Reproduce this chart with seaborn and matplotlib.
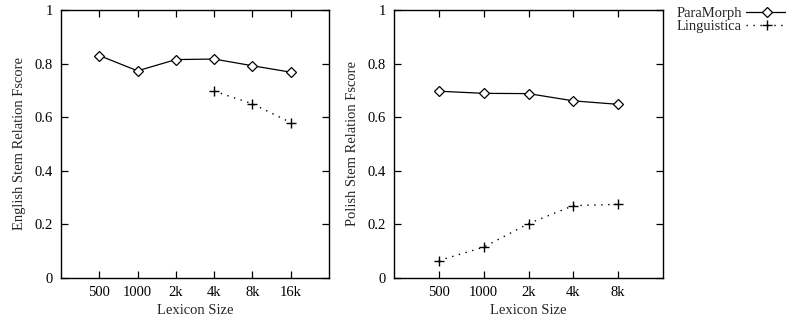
import numpy as np
import pandas as pd
import matplotlib
matplotlib.use("Agg")
import matplotlib.pyplot as plt
import seaborn as sns

# lexicon sizes
en_sizes = ["500", "1000", "2k", "4k", "8k", "16k"]
pl_sizes = ["500", "1000", "2k", "4k", "8k"]

# English stem relation fscore
en_paramorph = [0.830, 0.773, 0.815, 0.817, 0.792, 0.768]
en_linguistica = [np.nan, np.nan, np.nan, 0.697, 0.650, 0.580]

# Polish stem relation fscore
pl_paramorph = [0.697, 0.689, 0.688, 0.661, 0.648]
pl_linguistica = [0.065, 0.115, 0.203, 0.270, 0.275]

sns.set_style("ticks")
plt.rcParams['font.family'] = ['Liberation Serif', 'DejaVu Serif']
plt.rcParams['font.size'] = 10.5

fig = plt.figure(figsize=(7.86, 3.2), dpi=100)
ax1 = fig.add_axes([61/786, 42/320, 268/786, 268/320])
ax2 = fig.add_axes([394/786, 42/320, 269/786, 268/320])


def draw(ax, sizes, para, ling, ylabel):
    df = pd.DataFrame({"pos": np.arange(len(sizes)), "para": para, "ling": ling})
    sns.lineplot(data=df, x="pos", y="para", ax=ax, color="black", lw=0.9,
                 marker="D", markersize=5.5, markerfacecolor="white",
                 markeredgecolor="black", markeredgewidth=0.9, label="ParaMorph")
    d2 = df.dropna()
    sns.lineplot(data=d2, x="pos", y="ling", ax=ax, color="black", lw=1.0,
                 linestyle=(0, (1, 4)), marker="+", markersize=6.5,
                 markeredgecolor="black", markeredgewidth=1.0, label="Linguistica")
    ax.set_xlim(-1, len(sizes))
    ax.set_ylim(0, 1)
    ax.set_xticks(np.arange(len(sizes)))
    ax.set_xticklabels(sizes)
    ax.set_yticks([0, 0.2, 0.4, 0.6, 0.8, 1])
    ax.set_yticklabels(["0", "0.2", "0.4", "0.6", "0.8", "1"])
    ax.tick_params(direction="in", length=5, width=0.9, top=True, right=True,
                   labelsize=10.5, pad=6, colors="black")
    for s in ax.spines.values():
        s.set_visible(True)
        s.set_linewidth(1.0)
        s.set_color("black")
    ax.set_xlabel("Lexicon Size", fontsize=10.5, labelpad=3)
    ax.set_ylabel(ylabel, fontsize=10.5, labelpad=6)


draw(ax1, en_sizes, en_paramorph, en_linguistica, "English Stem Relation Fscore")
draw(ax2, pl_sizes, pl_paramorph, pl_linguistica, "Polish Stem Relation Fscore")

ax1.get_legend().remove()
handles, labels = ax2.get_legend_handles_labels()
ax2.get_legend().remove()
fig.legend(handles, labels, loc="upper right", bbox_to_anchor=(1.005, 0.983),
           frameon=False, markerfirst=False, handlelength=2.9, labelspacing=0.0,
           handletextpad=0.3, borderaxespad=0, borderpad=0.1, fontsize=10.5)

fig.savefig("out.png", dpi=100)
